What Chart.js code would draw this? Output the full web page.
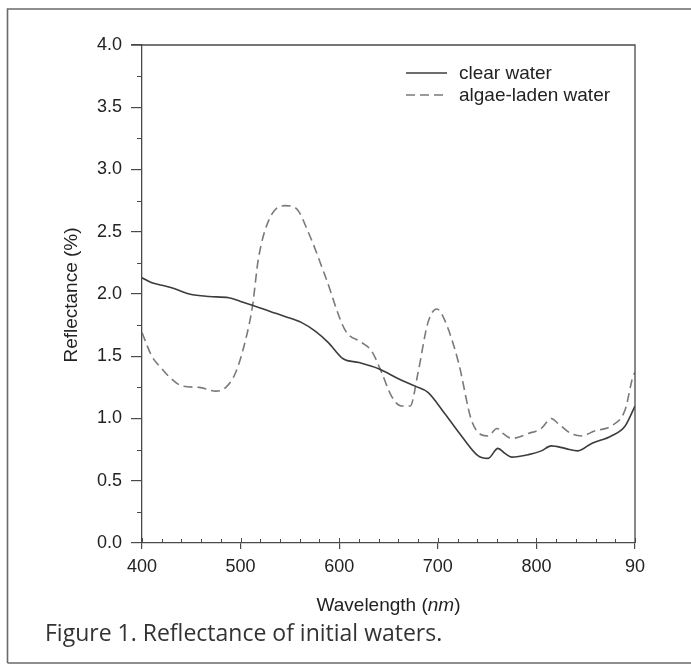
<!DOCTYPE html>
<html>
<head>
<meta charset="utf-8">
<script src="https://cdn.jsdelivr.net/npm/chart.js@4/dist/chart.umd.min.js"></script>
<style>
  html, body { margin: 0; padding: 0; background: #fff; }
  #wrap { width: 691px; height: 666px; position: relative; }
</style>
</head>
<body>
<div id="wrap"><canvas id="c" width="691" height="666"></canvas></div>
<script>
// Clear water spectrum: wavelength (nm) and reflectance (%)
const clearWavelength = [400, 410, 420, 430, 448, 468, 488, 500, 512, 530, 545, 562, 576, 589, 604, 620, 640, 660, 677, 690, 707, 724, 741, 751, 761, 768, 775, 792, 805, 815, 829, 842, 856, 876, 890, 900];
const clearReflectance = [2.13, 2.09, 2.07, 2.05, 2.00, 1.98, 1.97, 1.94, 1.91, 1.86, 1.82, 1.77, 1.70, 1.61, 1.48, 1.45, 1.40, 1.32, 1.26, 1.21, 1.04, 0.86, 0.70, 0.68, 0.76, 0.72, 0.69, 0.71, 0.74, 0.78, 0.76, 0.74, 0.80, 0.86, 0.94, 1.10];

// Algae-laden water spectrum
const algaeWavelength = [400, 410, 420, 427, 441, 458, 475, 485, 495, 505, 512, 518, 529, 545, 556, 569, 586, 606, 623, 633, 643, 653, 663, 672, 680, 690, 699, 707, 721, 734, 744, 751, 760, 766, 775, 792, 805, 815, 822, 835, 846, 859, 876, 890, 898, 900];
const algaeReflectance = [1.69, 1.50, 1.40, 1.34, 1.26, 1.25, 1.22, 1.25, 1.37, 1.63, 1.90, 2.28, 2.60, 2.71, 2.69, 2.49, 2.14, 1.71, 1.61, 1.54, 1.37, 1.18, 1.10, 1.10, 1.37, 1.77, 1.88, 1.79, 1.45, 0.99, 0.87, 0.86, 0.92, 0.88, 0.84, 0.88, 0.92, 1.00, 0.96, 0.88, 0.86, 0.90, 0.94, 1.07, 1.34, 1.37];

const seriesNames = ['clear water', 'algae-laden water'];

// Axis ticks
const xTickValues = [400, 500, 600, 700, 800, 900];
const xTickLabels = ['400', '500', '600', '700', '800', '90'];
const yTickValues = [0, 0.5, 1, 1.5, 2, 2.5, 3, 3.5, 4];
const xMinorStep = 20;
const yMinorStep = 0.25;

const xTitleParts = [['Wavelength (', 'normal'], ['nm', 'italic'], [')', 'normal']];
const yTitle = 'Reflectance (%)';
const caption = 'Figure 1. Reflectance of initial waters.';

const toPoints = (xs, ys) => xs.map((x, i) => ({ x, y: ys[i] }));

const AXIS_COLOR = '#4a4a4a';
const TEXT_COLOR = '#222';
const LABEL_FONT = '"Liberation Sans", Arial, sans-serif';

// Frame, minor ticks, titles, caption and legend
const decorations = {
  id: 'decorations',
  afterDraw(chart) {
    const { ctx, chartArea: a, scales: { x, y } } = chart;
    ctx.save();

    // outer figure frame
    ctx.strokeStyle = '#6a6a6a';
    ctx.lineWidth = 1.6;
    ctx.beginPath();
    ctx.moveTo(7.5, 663);
    ctx.lineTo(7.5, 9);
    ctx.lineTo(691, 9);
    ctx.moveTo(7.5, 663);
    ctx.lineTo(691, 663);
    ctx.stroke();

    // plot box top / right
    ctx.strokeStyle = AXIS_COLOR;
    ctx.lineWidth = 1.3;
    ctx.beginPath();
    ctx.moveTo(a.left - 11, a.top);
    ctx.lineTo(a.right, a.top);
    ctx.lineTo(a.right, a.bottom);
    ctx.stroke();

    // minor ticks
    ctx.lineWidth = 1;
    ctx.beginPath();
    for (let v = x.min; v <= x.max + 1e-9; v += xMinorStep) {
      const px = Math.round(x.getPixelForValue(v)) + 0.5;
      const major = xTickValues.includes(v);
      ctx.moveTo(px, a.bottom);
      ctx.lineTo(px, a.bottom - (major ? 5 : 4));
    }
    for (let v = y.min; v <= y.max + 1e-9; v += yMinorStep) {
      if (yTickValues.some(t => Math.abs(t - v) < 1e-9)) continue;
      const py = Math.round(y.getPixelForValue(v)) + 0.5;
      ctx.moveTo(a.left, py);
      ctx.lineTo(a.left - 5, py);
    }
    ctx.stroke();

    // x axis title with italic unit
    ctx.fillStyle = TEXT_COLOR;
    ctx.textBaseline = 'middle';
    let total = 0;
    xTitleParts.forEach(p => { ctx.font = `${p[1]} 19px ${LABEL_FONT}`; total += ctx.measureText(p[0]).width; });
    let cx = (a.left + a.right) / 2 - total / 2;
    xTitleParts.forEach(p => {
      ctx.font = `${p[1]} 19px ${LABEL_FONT}`;
      ctx.textAlign = 'left';
      ctx.fillText(p[0], cx, 606);
      cx += ctx.measureText(p[0]).width;
    });

    // y axis title
    ctx.save();
    ctx.translate(72, 295);
    ctx.rotate(-Math.PI / 2);
    ctx.font = `19px ${LABEL_FONT}`;
    ctx.textAlign = 'center';
    ctx.fillText(yTitle, 0, 0);
    ctx.restore();

    // caption
    ctx.font = '23px "Open Sans", sans-serif';
    ctx.fillStyle = '#333';
    ctx.textAlign = 'left';
    ctx.fillText(caption, 45, 634);

    // legend
    const rows = [73, 95];
    chart.data.datasets.forEach((ds, i) => {
      ctx.strokeStyle = ds.borderColor;
      ctx.lineWidth = ds.borderWidth;
      ctx.setLineDash(ds.borderDash || []);
      ctx.beginPath();
      ctx.moveTo(406, rows[i]);
      ctx.lineTo(447, rows[i]);
      ctx.stroke();
      ctx.setLineDash([]);
      ctx.fillStyle = TEXT_COLOR;
      ctx.font = `19px ${LABEL_FONT}`;
      ctx.textAlign = 'left';
      ctx.fillText(ds.label, 459, rows[i] + 1);
    });

    ctx.restore();
  }
};

new Chart(document.getElementById('c'), {
  type: 'line',
  data: {
    datasets: [
      {
        label: seriesNames[0],
        data: toPoints(clearWavelength, clearReflectance),
        borderColor: '#3c3c3c',
        borderWidth: 1.6,
        pointRadius: 0,
        cubicInterpolationMode: 'monotone',
        fill: false
      },
      {
        label: seriesNames[1],
        data: toPoints(algaeWavelength, algaeReflectance),
        borderColor: '#7a7a7a',
        borderWidth: 1.6,
        borderDash: [9, 5],
        pointRadius: 0,
        cubicInterpolationMode: 'monotone',
        fill: false
      }
    ]
  },
  options: {
    responsive: false,
    animation: false,
    devicePixelRatio: 1,
    layout: { padding: { left: 0, right: 56, top: 45, bottom: 0 } },
    plugins: { legend: { display: false }, tooltip: { enabled: false } },
    scales: {
      x: {
        type: 'linear',
        min: 400,
        max: 900,
        afterFit(s) { s.height = 123; },
        afterBuildTicks(s) { s.ticks = xTickValues.map(v => ({ value: v })); },
        grid: { drawOnChartArea: false, drawTicks: true, tickLength: 6, color: AXIS_COLOR, lineWidth: 1.2 },
        border: { display: true, color: AXIS_COLOR, width: 1.3 },
        ticks: {
          padding: 7,
          maxRotation: 0,
          color: TEXT_COLOR,
          font: { family: LABEL_FONT, size: 18 },
          callback: v => xTickLabels[xTickValues.indexOf(v)]
        }
      },
      y: {
        type: 'linear',
        min: 0,
        max: 4,
        afterFit(s) { s.width = 142; },
        afterBuildTicks(s) { s.ticks = yTickValues.map(v => ({ value: v })); },
        grid: { drawOnChartArea: false, drawTicks: true, tickLength: 11, color: AXIS_COLOR, lineWidth: 1.2 },
        border: { display: true, color: AXIS_COLOR, width: 1.3 },
        ticks: {
          padding: 9,
          color: TEXT_COLOR,
          font: { family: LABEL_FONT, size: 18 },
          callback: v => v.toFixed(1)
        }
      }
    }
  },
  plugins: [decorations]
});
</script>
</body>
</html>
